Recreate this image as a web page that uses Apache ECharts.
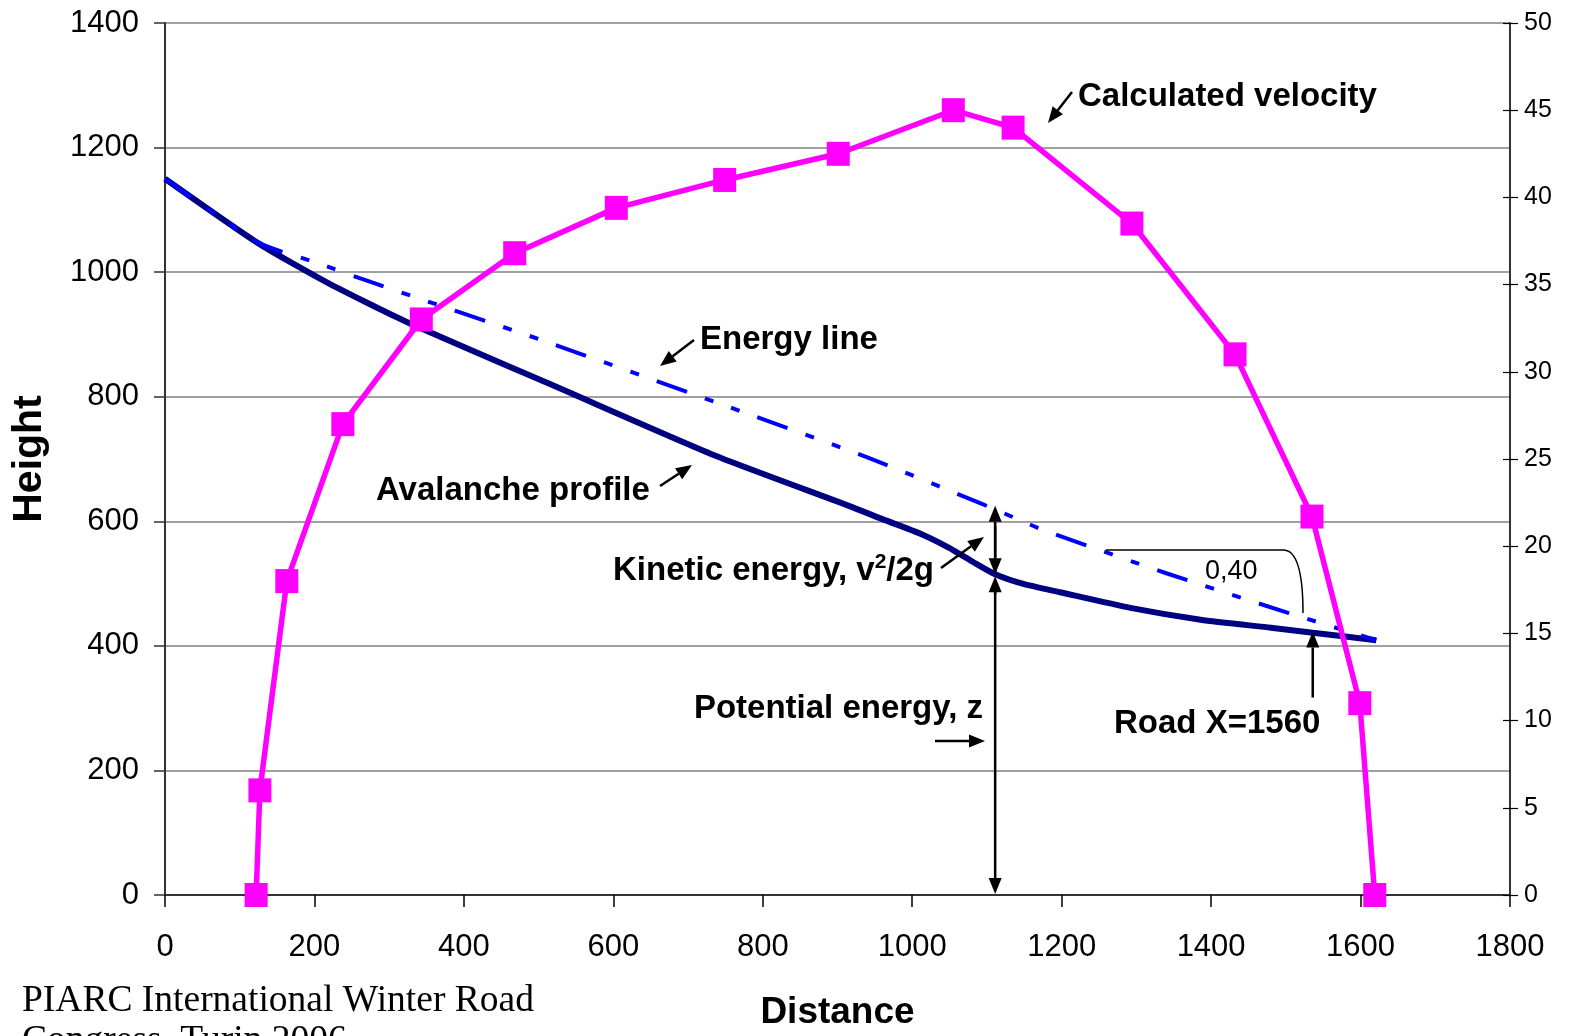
<!DOCTYPE html>
<html>
<head>
<meta charset="utf-8">
<script src="https://cdn.jsdelivr.net/npm/echarts@6/dist/echarts.min.js"></script>
<style>
html,body{margin:0;padding:0;background:#fff;overflow:hidden;}
#chart{width:1569px;height:1036px;}
</style>
</head>
<body>
<div id="chart"></div>
<script>
// ---- data ----
const xTicks = [0,200,400,600,800,1000,1200,1400,1600,1800];
const heightTicks = [0,200,400,600,800,1000,1200,1400];
const velocityTicks = [0,5,10,15,20,25,30,35,40,45,50];

const profileX = [0,124,216,320,529,735,917,961,1011,1050,1081,1111,1150,1198,1292,1386,1480,1536,1621];
const profileH = [1150,1047,984,922,813,706,624,603,580,557,535,515,499,486,461,442,429,421,409];

const energyX = [0,124,203,278,506,742,939,1095,1144,1175,1339,1503,1621];
const energyH = [1150,1048,1015,983,890,789,703,627,602,586,517,453,409];

const velocityX = [122,127,163,238,343,468,604,749,901,1055,1135,1294,1432,1535,1599,1619];
const velocityV = [0,6,18,27,33,36.8,39.4,41,42.5,45,44,38.5,31,21.7,11,0];

const kineticX = 1111;      // position of the energy arrows
const roadX = 1536;         // road arrow
const slopeLabel = '0,40';

const zip = (a,b) => a.map((v,i)=>[v,b[i]]);

const chart = echarts.init(document.getElementById('chart'), null, {renderer:'canvas'});
const FONT = '"Liberation Sans", Arial, sans-serif';
const plain = v => String(v);

chart.setOption({
  animation:false,
  backgroundColor:'#fff',
  grid:{left:165,right:59,top:23,bottom:138,containLabel:false},
  xAxis:{
    type:'value',min:xTicks[0],max:xTicks[xTicks.length-1],interval:200,
    name:'Distance',nameLocation:'middle',nameGap:99,
    nameTextStyle:{fontFamily:FONT,fontWeight:'bold',fontSize:37,color:'#000'},
    axisLine:{show:true,onZero:false,lineStyle:{color:'#333',width:2}},
    axisTick:{show:true,length:12,lineStyle:{color:'#000',width:1.5}},
    axisLabel:{fontFamily:FONT,fontSize:31,color:'#000',margin:37,formatter:plain},
    splitLine:{show:false}
  },
  yAxis:[
    {
      type:'value',min:heightTicks[0],max:heightTicks[heightTicks.length-1],interval:200,position:'left',
      name:'Height',nameLocation:'middle',nameGap:115,
      nameTextStyle:{fontFamily:FONT,fontWeight:'bold',fontSize:41,color:'#000'},
      axisLine:{show:true,lineStyle:{color:'#333',width:2}},
      axisTick:{show:true,length:11,lineStyle:{color:'#333',width:1.5}},
      axisLabel:{fontFamily:FONT,fontSize:31,color:'#000',margin:26,formatter:plain},
      splitLine:{show:true,lineStyle:{color:'#808080',width:1.5}}
    },
    {
      type:'value',min:velocityTicks[0],max:velocityTicks[velocityTicks.length-1],interval:5,position:'right',
      axisLine:{show:true,lineStyle:{color:'#333',width:2}},
      axisTick:{show:true,length:8,lineStyle:{color:'#000',width:1.2}},
      axisLabel:{fontFamily:FONT,fontSize:25,color:'#000',margin:14,formatter:plain},
      splitLine:{show:false}
    },
    {
      type:'value',min:0,max:50,interval:5,position:'right',
      axisLine:{show:false},
      axisTick:{show:true,inside:true,length:7,lineStyle:{color:'#000',width:1.2}},
      axisLabel:{show:false},
      splitLine:{show:false}
    }
  ],
  series:[
    {
      name:'Avalanche profile',type:'line',xAxisIndex:0,yAxisIndex:0,
      data:zip(profileX,profileH),showSymbol:false,symbol:'none',smooth:0.2,
      lineStyle:{color:'#000080',width:6},z:3
    },
    {
      name:'Energy line',type:'line',xAxisIndex:0,yAxisIndex:0,
      data:zip(energyX,energyH),showSymbol:false,symbol:'none',smooth:0.2,
      lineStyle:{color:'#0000FF',width:4,type:[32,19,9,19,9,19]},z:4
    },
    {
      name:'Calculated velocity',type:'line',xAxisIndex:0,yAxisIndex:1,
      data:zip(velocityX,velocityV),symbol:'rect',symbolSize:[23,24],showSymbol:true,
      lineStyle:{color:'#FF00FF',width:5.5},itemStyle:{color:'#FF00FF'},z:5
    }
  ]
});

// ---- annotations ----
function px(x,y){ return chart.convertToPixel({xAxisIndex:0,yAxisIndex:0},[x,y]); }
function arrow(x1,y1,x2,y2,opts){
  opts = opts||{};
  const hl = opts.hl||16, hw = opts.hw||6.5, lw = opts.lw||2.5;
  const a = Math.atan2(y2-y1,x2-x1);
  const bx = x2 - hl*Math.cos(a), by = y2 - hl*Math.sin(a);
  const nx = -Math.sin(a), ny = Math.cos(a);
  return [
    {type:'line',shape:{x1:x1,y1:y1,x2:bx,y2:by},style:{stroke:'#000',lineWidth:lw},z:10},
    {type:'polygon',shape:{points:[[x2,y2],[bx+nx*hw,by+ny*hw],[bx-nx*hw,by-ny*hw]]},style:{fill:'#000'},z:10}
  ];
}
function label(text,x,y,align){
  return {type:'text',x:x,y:y,z:11,style:{text:text,fill:'#000',font:'bold 33px '+FONT,align:align||'left',verticalAlign:'middle'}};
}

function drawAnnotations(){
  const p0 = px(kineticX,0), pProf = px(kineticX,515), pEn = px(kineticX,625);
  const r0 = px(roadX,317), r1 = px(roadX,423);
  let els = [];
  // calculated velocity
  els = els.concat(arrow(1072,92,1048,123));
  els.push(label('Calculated velocity',1078,97));
  // energy line
  els = els.concat(arrow(694,340,660,366));
  els.push(label('Energy line',700,340));
  // avalanche profile
  els = els.concat(arrow(660,486,692,465));
  els.push(label('Avalanche profile',376,491));
  // kinetic energy
  els = els.concat(arrow(941,568,984,537));
  els.push({type:'text',x:613,y:571,z:11,style:{
    text:'Kinetic energy, v{s|2}/2g',fill:'#000',font:'bold 33px '+FONT,verticalAlign:'middle',
    rich:{s:{fontFamily:FONT,fontWeight:'bold',fontSize:21,verticalAlign:'top',padding:[0,0,18,0]}}
  }});
  // vertical double arrows (kinetic & potential energy)
  els = els.concat(arrow(pProf[0],pProf[1]-2,pEn[0],pEn[1],{lw:2.5}));
  els = els.concat(arrow(pEn[0],pEn[1]+20,pProf[0],pProf[1],{lw:2.5}));
  els = els.concat(arrow(pProf[0],pProf[1]+20,pProf[0],pProf[1]+2,{lw:2.5}));
  els = els.concat(arrow(pProf[0],pProf[1]+10,p0[0],p0[1]-1,{lw:2.5}));
  // potential energy
  els.push(label('Potential energy, z',983,709,'right'));
  els = els.concat(arrow(935,741,985,741));
  // road
  els = els.concat(arrow(r0[0],r0[1],r1[0],r1[1]));
  els.push(label('Road X=1560',1114,724));
  // slope bracket
  els.push({type:'polyline',shape:{points:[[1106,550],[1284,550]]},style:{stroke:'#000',lineWidth:1.5,fill:null},z:9});
  els.push({type:'bezierCurve',shape:{x1:1284,y1:550,cpx1:1300,cpy1:551,cpx2:1303,cpy2:585,x2:1303,y2:613},style:{stroke:'#000',lineWidth:1.5,fill:null},z:9});
  els.push({type:'text',x:1205,y:572,z:11,style:{text:slopeLabel,fill:'#000',font:'27px '+FONT,verticalAlign:'middle'}});
  // footer
  els.push({type:'text',x:22,y:981,z:11,style:{
    text:'PIARC International Winter Road\nCongress, Turin 2006',fill:'#000',
    font:'37.5px "Liberation Serif", "Times New Roman", serif',lineHeight:40,verticalAlign:'top'
  }});
  chart.setOption({graphic:{elements:els}});
}
drawAnnotations();
</script>
</body>
</html>
